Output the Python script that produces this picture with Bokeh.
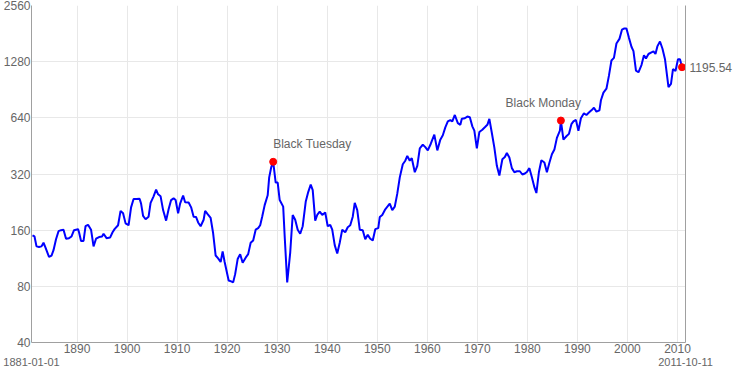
from bokeh.plotting import figure
from bokeh.models import Range1d, FixedTicker, LogAxis, LinearAxis
from bokeh.embed import file_html
from bokeh.resources import INLINE
from bokeh.core.properties import value

# ---- data ----
years = [
    1881.1, 1881.5, 1881.9, 1882.4, 1882.9, 1883.3, 1883.7, 1884.4, 1884.9, 1885.3,
    1885.8, 1886.3, 1886.8, 1887.3, 1887.8, 1888.4, 1888.9, 1889.4, 1890.2, 1890.4,
    1890.8, 1891.3, 1891.7, 1892.2, 1892.8, 1893.3, 1893.8, 1894.4, 1895.0, 1895.3,
    1895.9, 1896.6, 1897.1, 1897.5, 1898.2, 1898.7, 1899.2, 1899.7, 1900.3, 1900.8,
    1901.3, 1901.9, 1902.5, 1902.8, 1903.2, 1903.7, 1904.3, 1904.7, 1905.3, 1905.8,
    1906.2, 1906.7, 1907.2, 1907.8, 1908.3, 1908.8, 1909.3, 1909.7, 1910.2, 1910.6,
    1911.2, 1911.6, 1912.3, 1912.8, 1913.3, 1913.8, 1914.2, 1914.7, 1915.3, 1915.6,
    1916.1, 1916.7, 1917.2, 1917.7, 1918.2, 1918.7, 1919.1, 1919.5, 1920.3, 1920.8,
    1921.2, 1921.6, 1922.1, 1922.6, 1923.1, 1923.7, 1924.2, 1924.7, 1925.2, 1925.7,
    1926.2, 1926.6, 1927.0, 1927.5, 1928.1, 1928.4, 1928.8, 1929.2, 1929.7, 1930.1,
    1930.5, 1931.2, 1931.5, 1932.0, 1932.6, 1933.1, 1933.6, 1934.1, 1934.6, 1935.1,
    1935.7, 1936.2, 1936.7, 1937.1, 1937.6, 1938.0, 1938.5, 1939.0, 1939.6, 1940.1,
    1940.6, 1941.0, 1941.5, 1942.0, 1942.5, 1943.0, 1943.6, 1944.1, 1944.6, 1945.1,
    1945.5, 1946.0, 1946.5, 1947.1, 1947.6, 1948.1, 1948.6, 1949.1, 1949.6, 1950.2,
    1950.5, 1951.0, 1951.6, 1952.1, 1952.5, 1953.0, 1953.5, 1954.0, 1954.5, 1955.1,
    1955.6, 1956.0, 1956.5, 1956.9, 1957.5, 1958.0, 1958.5, 1959.1, 1959.6, 1960.1,
    1960.7, 1961.4, 1962.0, 1962.6, 1963.1, 1963.6, 1964.1, 1964.6, 1965.0, 1965.5,
    1966.1, 1966.6, 1966.9, 1967.5, 1968.0, 1968.5, 1969.0, 1969.4, 1969.9, 1970.4,
    1971.0, 1971.6, 1972.0, 1972.4, 1972.9, 1973.4, 1973.9, 1974.4, 1975.0, 1975.5,
    1975.9, 1976.4, 1976.9, 1977.4, 1977.9, 1978.5, 1979.0, 1979.5, 1979.9, 1980.4,
    1980.9, 1981.4, 1981.8, 1982.3, 1982.8, 1983.4, 1983.9, 1984.4, 1984.9, 1985.4,
    1985.9, 1986.5, 1986.7, 1987.2, 1987.8, 1988.3, 1988.8, 1989.2, 1989.7, 1990.2,
    1990.7, 1991.3, 1991.8, 1992.3, 1992.8, 1993.3, 1993.8, 1994.4, 1994.7, 1995.2,
    1995.8, 1996.3, 1996.8, 1997.3, 1997.8, 1998.4, 1998.9, 1999.4, 1999.8, 2000.3,
    2000.8, 2001.2, 2001.7, 2002.2, 2002.8, 2003.3, 2003.7, 2004.2, 2004.7, 2005.2,
    2005.6, 2006.0, 2006.5, 2007.0, 2007.5, 2008.2, 2008.7, 2009.1, 2009.6, 2010.1,
    2010.5, 2010.9,
]
values = [
    150, 148, 131, 130, 131, 137, 129, 115, 117, 125,
    143, 158, 160, 161, 144, 145, 148, 160, 162, 156,
    140, 140, 168, 171, 161, 131, 144, 147, 148, 153,
    145, 146, 156, 162, 170, 203, 197, 174, 170, 212,
    235, 235, 236, 222, 191, 183, 189, 224, 243, 264,
    249, 243, 205, 180, 207, 232, 237, 232, 197, 222,
    245, 226, 225, 212, 189, 188, 176, 168, 182, 203,
    195, 186, 154, 117, 113, 108, 123, 108, 86, 85,
    84, 93, 112, 119, 107, 114, 119, 137, 141, 161,
    164, 170, 189, 218, 246, 307, 347, 372, 288, 288,
    232, 214, 148, 84, 121, 193, 182, 161, 153, 168,
    227, 256, 281, 262, 180, 193, 201, 193, 199, 168,
    171, 161, 133, 120, 137, 161, 156, 166, 170, 189,
    224, 205, 161, 160, 143, 151, 144, 141, 162, 164,
    188, 193, 207, 215, 222, 205, 214, 251, 307, 361,
    377, 400, 377, 389, 327, 354, 439, 460, 446, 428,
    465, 520, 428, 489, 516, 569, 612, 622, 612, 663,
    599, 587, 632, 637, 650, 644, 576, 546, 439, 537,
    553, 573, 587, 632, 531, 443, 354, 314, 384, 395,
    415, 392, 344, 327, 331, 331, 318, 322, 328, 344,
    307, 272, 253, 327, 379, 369, 327, 368, 408, 433,
    500, 546, 619, 489, 510, 525, 592, 612, 624, 546,
    637, 677, 663, 683, 702, 725, 691, 702, 795, 873,
    917, 1077, 1299, 1341, 1602, 1696, 1899, 1930, 1930, 1717,
    1539, 1459, 1145, 1123, 1227, 1385, 1331, 1407, 1431, 1454,
    1407, 1551, 1642, 1502, 1320, 936, 974, 1169, 1141, 1320,
    1320, 1195.54,
]

event_names = ["Black Tuesday", "Black Monday"]
event_years = [1929.2, 1986.7]

y_ticks = [40, 80, 160, 320, 640, 1280, 2560]
y_tick_labels = ["40", "80", "160", "320", "640", "1280", "2560"]
x_ticks = [1890, 1900, 1910, 1920, 1930, 1940, 1950, 1960, 1970, 1980, 1990, 2000, 2010]
x_tick_labels = ["1890", "1900", "1910", "1920", "1930", "1940", "1950",
                 "1960", "1970", "1980", "1990", "2000", "2010"]
start_date_label = "1881-01-01"
end_date_label = "2011-10-11"
x_start, x_end = 1880.9, 2011.6
y_start, y_end = 40, 2560

FONT = "Liberation Sans"
TEXT_COLOR = "#666666"
AXIS_COLOR = "#a0a0a0"
GRID_COLOR = "#e8e8e8"

p = figure(width=734, height=368,
           x_range=Range1d(x_start, x_end), y_range=Range1d(y_start, y_end),
           y_axis_type="log", output_backend="svg", toolbar_location=None,
           min_border_left=0, min_border_right=0, min_border_top=5, min_border_bottom=0)
p.outline_line_color = None
p.background_fill_color = "white"
p.border_fill_color = "white"


def style_axis(ax, size="12px", standoff=2):
    ax.major_tick_line_color = None
    ax.minor_tick_line_color = None
    ax.major_tick_in = 0
    ax.major_tick_out = 0
    ax.minor_tick_in = 0
    ax.minor_tick_out = 0
    ax.major_label_text_font = FONT
    ax.major_label_text_font_size = size
    ax.major_label_text_color = TEXT_COLOR
    ax.major_label_standoff = standoff
    ax.axis_line_color = AXIS_COLOR
    ax.axis_line_width = 1


# left axis
left_ax = p.left[0]
left_ax.ticker = FixedTicker(ticks=y_ticks)
left_ax.major_label_overrides = {t: s for t, s in zip(y_ticks, y_tick_labels)}
style_axis(left_ax, standoff=1)

# bottom axis
bottom_ax = p.below[0]
bottom_ax.ticker = FixedTicker(ticks=x_ticks)
bottom_ax.major_label_overrides = {t: s for t, s in zip(x_ticks, x_tick_labels)}
style_axis(bottom_ax, standoff=1)

# date range labels under the year labels
edge_ticks = [x_start + 0.001, x_end - 0.001]
date_ax = LinearAxis(ticker=FixedTicker(ticks=edge_ticks),
                     major_label_overrides={edge_ticks[0]: start_date_label,
                                            edge_ticks[1]: end_date_label})
style_axis(date_ax, size="11px", standoff=2)
date_ax.axis_line_color = None
p.add_layout(date_ax, "below")

# right border carrying the last value
last_value = values[-1]
right_ax = LogAxis(ticker=FixedTicker(ticks=[last_value]),
                   major_label_overrides={last_value: f"{last_value:.2f}"})
style_axis(right_ax, standoff=4)
p.add_layout(right_ax, "right")

# grids
p.xgrid.ticker = FixedTicker(ticks=x_ticks)
p.ygrid.ticker = FixedTicker(ticks=y_ticks)
p.xgrid.grid_line_color = GRID_COLOR
p.ygrid.grid_line_color = GRID_COLOR

# series
p.line(years, values, line_color="#0000ff", line_width=2)

ev_idx = [years.index(y) for y in event_years]
ev_x = [years[i] for i in ev_idx]
ev_y = [values[i] for i in ev_idx]
p.scatter(ev_x + [years[-1]], ev_y + [values[-1]], size=7,
          fill_color="#ff0000", line_color="#ff0000")

p.text(x=[ev_x[0]], y=[ev_y[0]], text=[event_names[0]],
       text_font=value(FONT), text_font_size="12px", text_color=TEXT_COLOR,
       text_align="left", text_baseline="middle", x_offset=0, y_offset=-18)
p.text(x=[ev_x[1]], y=[ev_y[1]], text=[event_names[1]],
       text_font=value(FONT), text_font_size="12px", text_color=TEXT_COLOR,
       text_align="right", text_baseline="middle", x_offset=20, y_offset=-18)

open("out.html", "w").write(file_html(p, INLINE))
